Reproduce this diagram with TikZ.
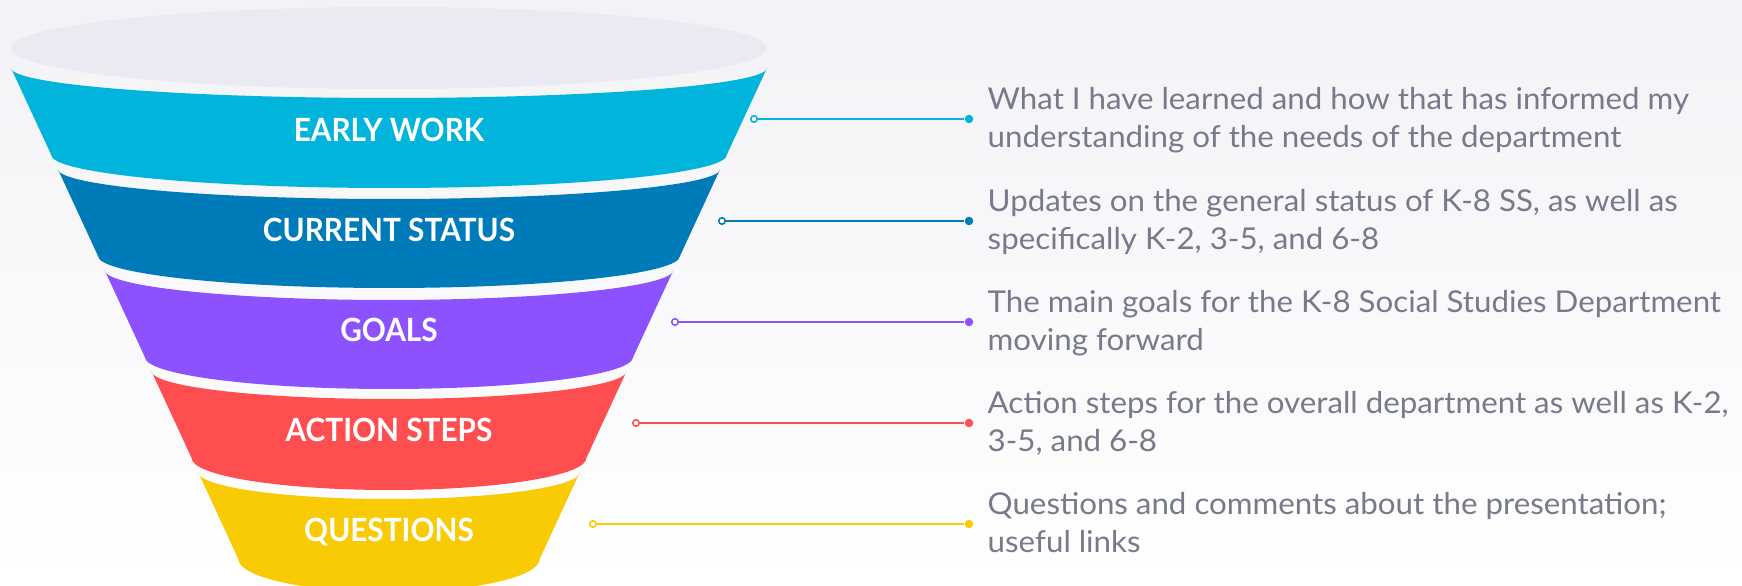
\documentclass[tikz,border=0pt]{standalone}
\usepackage{fontspec}
\setmainfont{Lato}
\newfontfamily\bandfont[FakeStretch=0.93]{Lato}
\newfontfamily\notefont[FakeStretch=1.04]{Lato}
\usepackage{tikz}
\usetikzlibrary{calc}

\definecolor{bandcyan}{RGB}{0,180,219}
\definecolor{bandblue}{RGB}{0,123,185}
\definecolor{bandpurple}{RGB}{140,82,255}
\definecolor{bandred}{RGB}{255,78,80}
\definecolor{bandyellow}{RGB}{248,203,5}
\definecolor{rimgray}{RGB}{233,234,242}
\definecolor{notegray}{RGB}{118,122,138}
\definecolor{bgtop}{RGB}{243,243,247}

\begin{document}
\begin{tikzpicture}[x=0.01cm,y=-0.01cm,
    bandlabel/.style={text=white,font=\bandfont\fontsize{9.1}{11}\selectfont\bfseries,text depth=0pt,inner sep=0pt},
    note/.style={text=notegray,font=\notefont\fontsize{8.55}{10.9}\selectfont,align=left,anchor=base west,inner sep=0pt},
    hollow/.style={circle,draw,fill=white,line width=0.45pt,minimum size=0.065cm,inner sep=0pt},
    dot/.style={circle,minimum size=0.085cm,inner sep=0pt},
    link/.style={line width=0.6pt}]
      \useasboundingbox (0,0) rectangle (1742,586);
      \shade[top color=bgtop,bottom color=white] (0,0) rectangle (1742,586);
      % rim of the funnel
      \fill[rimgray] (389,48) ellipse [x radius=378, y radius=41];
      % bands, top to bottom
      \fill[bandcyan] (11,68) arc[start angle=180, end angle=0, x radius=378, y radius=30]
        -- (726.7,155) arc[start angle=0, end angle=180, x radius=337.7, y radius=33] -- cycle;
      \fill[bandblue] (57.8,169) arc[start angle=180, end angle=0, x radius=331.2, y radius=30]
        -- (680,256) arc[start angle=0, end angle=180, x radius=291, y radius=32] -- cycle;
      \fill[bandpurple] (104.5,270) arc[start angle=180, end angle=0, x radius=284.5, y radius=30]
        -- (633.2,357) arc[start angle=0, end angle=180, x radius=244.2, y radius=32] -- cycle;
      \fill[bandred] (151.3,371) arc[start angle=180, end angle=0, x radius=237.7, y radius=28]
        -- (586.4,458) arc[start angle=0, end angle=180, x radius=197.4, y radius=32] -- cycle;
      \fill[bandyellow] (198.1,472) arc[start angle=180, end angle=0, x radius=190.9, y radius=27]
        -- (539.7,559) arc[start angle=0, end angle=180, x radius=150.7, y radius=33] -- cycle;
      % band labels
      \node[bandlabel] (ew) at (389,130) {EARLY WORK};
      \node[bandlabel] (cs) at (389,230) {CURRENT STATUS};
      \node[bandlabel] (go) at (389,330) {GOALS};
      \node[bandlabel] (as) at (389,430) {ACTION STEPS};
      \node[bandlabel] (qu) at (389,530) {QUESTIONS};
      % connectors
      \node[hollow,draw=bandcyan] (o1) at (754,119) {};
      \node[hollow,draw=bandblue] (o2) at (722,221) {};
      \node[hollow,draw=bandpurple] (o3) at (675,322) {};
      \node[hollow,draw=bandred] (o4) at (636,423) {};
      \node[hollow,draw=bandyellow] (o5) at (593,524) {};
      \node[dot,fill=bandcyan] (d1) at (969,119) {};
      \node[dot,fill=bandblue] (d2) at (969,221) {};
      \node[dot,fill=bandpurple] (d3) at (969,322) {};
      \node[dot,fill=bandred] (d4) at (969,423) {};
      \node[dot,fill=bandyellow] (d5) at (969,524) {};
      \draw[link,bandcyan] (o1) -- (d1);
      \draw[link,bandblue] (o2) -- (d2);
      \draw[link,bandpurple] (o3) -- (d3);
      \draw[link,bandred] (o4) -- (d4);
      \draw[link,bandyellow] (o5) -- (d5);
      % notes on the right (anchored at the baseline of the last line)
      \node[note] (n1) at (987,148) {What I have learned and how that has informed my\\understanding of the needs of the department};
      \node[note] (n2) at (987,250) {Updates on the general status of K-8 SS, as well as\\specifically K-2, 3-5, and 6-8};
      \node[note] (n3) at (987,351) {The main goals for the K-8 Social Studies Department\\moving forward};
      \node[note] (n4) at (987,452) {Action steps for the overall department as well as K-2,\\3-5, and 6-8};
      \node[note] (n5) at (987,553) {Questions and comments about the presentation;\\useful links};
    \end{tikzpicture}
\end{document}
